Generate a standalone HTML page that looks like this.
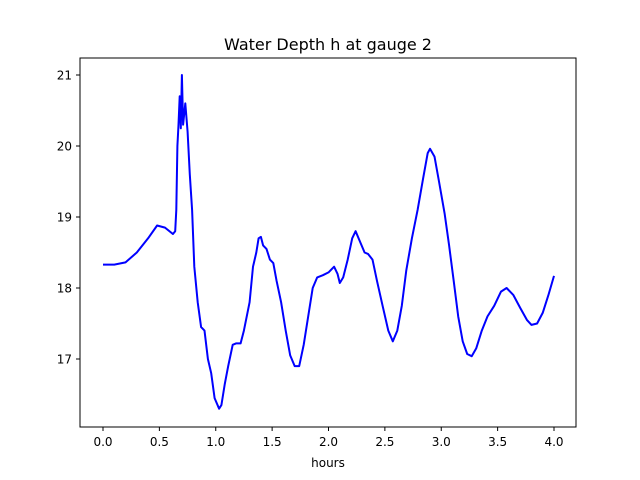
<!DOCTYPE html>
<html><head><meta charset="utf-8"><style>body{margin:0;background:#fff}svg{display:block}text{font-family:"DejaVu Sans","Liberation Sans",sans-serif}</style></head>
<body>
<svg id="chart" width="640" height="480">
<rect width="640" height="480" fill="#fff"/>
<text x="328" y="50" font-size="16" text-anchor="middle">Water Depth h at gauge 2</text>
<text x="328" y="467" font-size="12" text-anchor="middle">hours</text>
<g id="ticks"></g>
<path id="line" fill="none" stroke="#0000ff" stroke-width="2" stroke-linejoin="round"/>
<rect x="80" y="58" width="496" height="369" fill="none" stroke="#000" stroke-width="1"/>
</svg>
<script>
const times=[0,0.1,0.2,0.3,0.4,0.48,0.55,0.62,0.64,0.65,0.66,0.67,0.68,0.69,0.7,0.71,0.73,0.75,0.77,0.79,0.81,0.84,0.87,0.9,0.93,0.96,0.99,1.03,1.05,1.08,1.11,1.15,1.18,1.22,1.25,1.3,1.33,1.36,1.38,1.4,1.42,1.45,1.48,1.51,1.54,1.58,1.62,1.66,1.7,1.74,1.78,1.82,1.86,1.9,1.95,2.0,2.05,2.08,2.1,2.13,2.17,2.21,2.24,2.28,2.32,2.35,2.39,2.43,2.48,2.53,2.57,2.61,2.65,2.69,2.74,2.79,2.84,2.88,2.9,2.94,2.98,3.03,3.07,3.11,3.15,3.19,3.23,3.27,3.31,3.36,3.41,3.47,3.53,3.58,3.64,3.7,3.76,3.8,3.85,3.9,3.95,4.0];
const depths=[18.33,18.33,18.36,18.5,18.7,18.88,18.85,18.76,18.8,19.1,20.0,20.3,20.7,20.25,21.0,20.3,20.6,20.2,19.6,19.1,18.3,17.8,17.45,17.4,17.0,16.8,16.45,16.3,16.35,16.65,16.9,17.2,17.22,17.22,17.4,17.8,18.3,18.5,18.7,18.72,18.6,18.55,18.4,18.35,18.1,17.8,17.4,17.05,16.9,16.9,17.2,17.6,18.0,18.15,18.18,18.22,18.3,18.2,18.07,18.15,18.4,18.7,18.8,18.65,18.5,18.48,18.4,18.1,17.75,17.4,17.25,17.4,17.75,18.25,18.7,19.1,19.55,19.9,19.96,19.85,19.5,19.05,18.6,18.1,17.6,17.25,17.07,17.04,17.15,17.4,17.6,17.75,17.95,18.0,17.9,17.72,17.55,17.48,17.5,17.65,17.9,18.17];
const xTicks=[0,0.5,1.0,1.5,2.0,2.5,3.0,3.5,4.0];
const yTicks=[17,18,19,20,21];
const X=t=>103+t*112.75;
const Y=h=>359-(h-17)*71;
const NS='http://www.w3.org/2000/svg';
const g=document.getElementById('ticks');
xTicks.forEach(t=>{
  const l=document.createElementNS(NS,'line');
  l.setAttribute('x1',X(t));l.setAttribute('x2',X(t));l.setAttribute('y1',427);l.setAttribute('y2',431);l.setAttribute('stroke','#000');
  
  
  g.appendChild(l);
  const tx=document.createElementNS(NS,'text');
  tx.setAttribute('x',X(t));tx.setAttribute('y',446);tx.setAttribute('font-size','12');tx.setAttribute('text-anchor','middle');
  tx.textContent=t.toFixed(1);
  
  
  g.appendChild(tx);
});
yTicks.forEach(v=>{
  const l=document.createElementNS(NS,'line');
  l.setAttribute('x1',76);l.setAttribute('x2',80);l.setAttribute('y1',Y(v));l.setAttribute('y2',Y(v));l.setAttribute('stroke','#000');
  
  
  g.appendChild(l);
  const tx=document.createElementNS(NS,'text');
  tx.setAttribute('x',72);tx.setAttribute('y',Y(v)+4.5);tx.setAttribute('font-size','12');tx.setAttribute('text-anchor','end');
  tx.textContent=String(v);
  
  
  g.appendChild(tx);
});
document.getElementById('line').setAttribute('d',times.map((t,i)=>(i?'L':'M')+X(t).toFixed(1)+' '+Y(depths[i]).toFixed(1)).join(' '));
</script>
</body></html>
